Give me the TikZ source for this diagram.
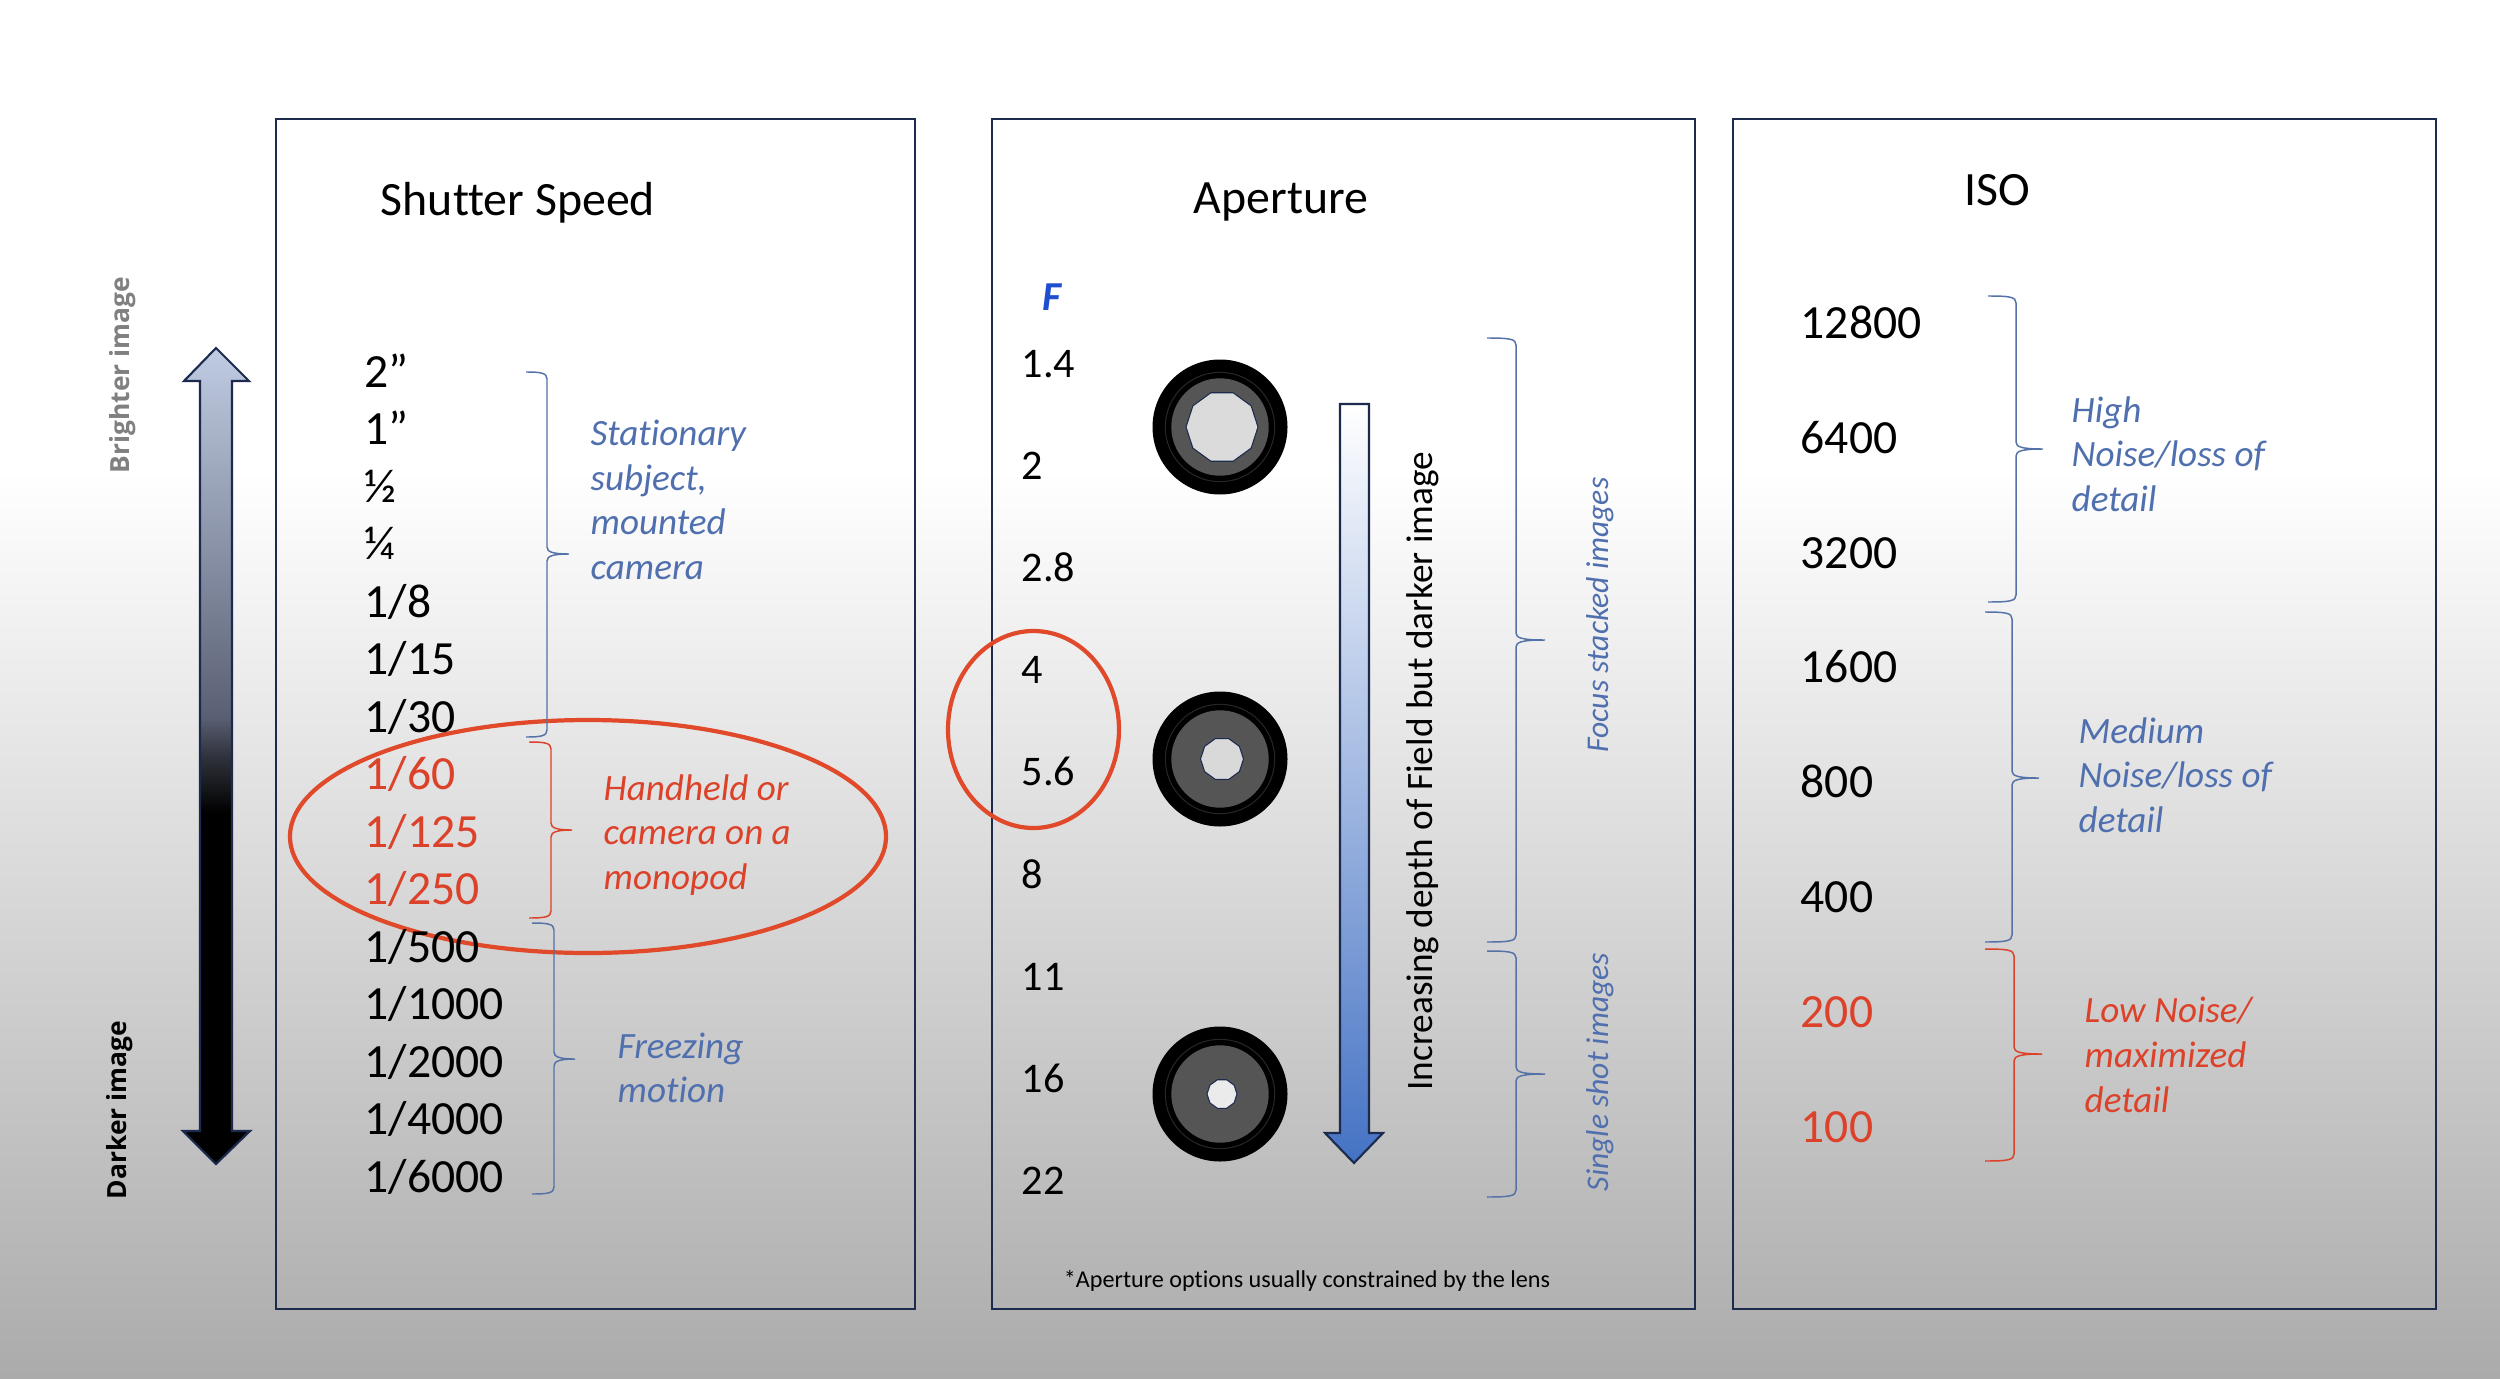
\documentclass[tikz,border=0pt]{standalone}
\usepackage{fontspec}
\setmainfont{Carlito}[Ligatures=NoCommon]
\newfontfamily\sidefont{Open Sans}
\usepackage{xcolor}
\usetikzlibrary{shapes.geometric}
\definecolor{framenavy}{HTML}{1C2A4E}
\definecolor{notered}{HTML}{DC4129}
\definecolor{ringred}{HTML}{E04A2A}
\definecolor{noteblue}{HTML}{4F6FAE}
\definecolor{braceblue}{HTML}{5472A8}
\definecolor{fblue}{HTML}{1F4FD0}
\definecolor{lensgray}{HTML}{555555}
\definecolor{arrowtop}{HTML}{C0CCE2}
\definecolor{arrowmid}{HTML}{5A6074}
\definecolor{arrowlow}{HTML}{30333C}
\definecolor{depthblue}{HTML}{4472C4}
\pgfdeclareverticalshading{brightdark}{100bp}{color(0bp)=(black); color(46.5bp)=(black); color(50bp)=(arrowlow); color(52.4bp)=(arrowmid); color(75bp)=(arrowtop); color(100bp)=(arrowtop)}
\begin{document}
\begin{tikzpicture}[x=0.01cm,y=-0.01cm,
                    frame/.style={draw=framenavy,line width=0.6pt},
                    val/.style={inner sep=0pt,anchor=base west,font=\fontsize{13.55}{16}\selectfont},
                    fval/.style={inner sep=0pt,anchor=base west,font=\fontsize{12}{14}\selectfont},
                    heading/.style={inner sep=0pt,font=\fontsize{13.6}{16}\selectfont},
                    note/.style={inner sep=0pt,anchor=west,align=left,text=noteblue,font=\fontsize{10.55}{12.7}\selectfont\itshape},
                    ring/.style={draw=ringred,line width=1.2pt},
                    bracket/.style={draw=#1,line width=0.42pt},
                    hole/.style={draw=framenavy,line width=0.3pt,regular polygon,regular polygon sides=10,inner sep=0pt,fill=#1},
                    sidelabel/.style={inner sep=0pt,rotate=90,font=\fontsize{7.5}{9}\selectfont\sidefont\bfseries}]

  \useasboundingbox (0,0) rectangle (2500,1379);
  \fill[white] (0,0) rectangle (2500,470);
  \shade[top color=white,bottom color=black!33] (0,470) rectangle (2500,1379);

  \draw[frame] (276,119) rectangle (915,1309);
  \draw[frame] (992,119) rectangle (1695,1309);
  \draw[frame] (1733,119) rectangle (2436,1309);

  \node[heading] (shuttertitle) at (518,203) {Shutter Speed};
  \node[heading] (aperturetitle) at (1281,202) {Aperture};
  \node[heading] (isotitle) at (1997,190) {ISO};

  \draw[framenavy,line width=0.6pt,shading=brightdark]
        (216,348) -- (249,381) -- (232,381) -- (232,1131) -- (250,1131) -- (216,1164)
        -- (183,1131) -- (200,1131) -- (200,381) -- (184,381) -- cycle;
  \node[sidelabel,text=black!50] (brighter) at (123,375) {Brighter image};
  \node[sidelabel] (darker) at (120,1110) {Darker image};

  \draw[ring] (588,836.5) ellipse (298 and 116.5);
  \draw[ring] (1033.5,729.5) ellipse (85.5 and 98.5);

  \foreach \shutter [count=\i from 0] in {2”,1”,½,¼,1/8,1/15,1/30,1/60,1/125,1/250,1/500,1/1000,1/2000,1/4000,1/6000}{
    \pgfmathtruncatemacro{\isred}{\i>6 && \i<10}
    \ifnum\isred=1
      \node[val,text=notered] (sh\i) at (364,387+57.5*\i) {\shutter};
    \else
      \node[val] (sh\i) at (364,387+57.5*\i) {\shutter};
    \fi
  }

  \node[inner sep=0pt,text=fblue,font=\fontsize{11.7}{14}\selectfont\bfseries\itshape] (fnum) at (1052,297) {F};
  \foreach \fstop [count=\i from 0] in {1.4,2,2.8,4,5.6,8,11,16,22}{
    \node[fval] (ap\i) at (1021,377+102.2*\i) {\fstop};
  }

  \foreach \iso/\isocol [count=\i from 0] in {12800/black,6400/black,3200/black,1600/black,800/black,400/black,200/notered,100/notered}{
    \node[val,text=\isocol] (iso\i) at (1800,338.5+114.8*\i) {\iso};
  }

  \foreach \n/\ly/\hs/\holecol in {1/427/72/black!14,2/759/43/black!15,3/1094/30/black!8}{
    \fill[black] (1220,\ly) circle (67.5);
    \draw[black!85,line width=0.3pt] (1220,\ly) circle (54.7);
    \fill[lensgray] (1220,\ly) circle (48.7);
    \node[hole=\holecol,minimum size=\hs*0.01cm] (stop\n) at (1222,\ly) {};
  }

  \shade[shading=axis,top color=white,bottom color=depthblue,draw=framenavy,line width=0.6pt]
        (1340,404) -- (1369,404) -- (1369,1133) -- (1383,1133) -- (1354,1163)
        -- (1325,1133) -- (1340,1133) -- cycle;
  \node[inner sep=0pt,rotate=90,font=\fontsize{10.6}{13}\selectfont] (depthtext) at (1423,771)
        {Increasing depth of Field but darker image};
  \node[inner sep=0pt,rotate=90,text=noteblue,font=\fontsize{9}{11}\selectfont\itshape] (focustext) at (1600,615)
        {Focus stacked images};
  \node[inner sep=0pt,rotate=90,text=noteblue,font=\fontsize{9}{11}\selectfont\itshape] (singletext) at (1600,1072)
        {Single shot images};
  \node[inner sep=0pt,font=\fontsize{6.87}{8}\selectfont] (lensnote) at (1307,1281)
        {*Aperture options usually constrained by the lens};

  \node[note] (stationary) at (590,500) {Stationary\\subject,\\mounted\\camera};
  \node[note,text=notered] (handheld) at (603,835) {Handheld or\\camera on a\\monopod};
  \node[note] (freezing) at (617,1068) {Freezing\\motion};
  \node[note] (highnoise) at (2071,454) {High\\Noise/loss of\\detail};
  \node[note] (mednoise) at (2078,775) {Medium\\Noise/loss of\\detail};
  \node[note,text=notered] (lownoise) at (2084,1055) {Low Noise/\\maximized\\detail};

  \foreach \n/\bx/\bs/\bp/\bt/\bm/\bb/\bcol in {1/526/547/569/372/554/737/braceblue,2/529/551/572/742/830/918/notered,
      3/532/554/575/923/1059/1194/braceblue,4/1487/1516/1545/338/640/942/braceblue,5/1487/1516/1545/951/1074/1197/braceblue,
      6/1988/2016/2043/296/449/602/braceblue,7/1985/2012/2039/612/778/942/braceblue,8/1985/2014/2042/949/1054/1161/notered}{
    \coordinate (br\n top) at (\bx,\bt);
    \coordinate (br\n tip) at (\bp,\bm);
    \coordinate (br\n bot) at (\bx,\bb);
    \draw[bracket=\bcol] (br\n top) .. controls (\bs-6,\bt) and (\bs,\bt+1) .. (\bs,\bt+7)
          -- (\bs,\bm-7) .. controls (\bs,\bm-2) and (\bs+6,\bm) .. (br\n tip)
          .. controls (\bs+6,\bm) and (\bs,\bm+2) .. (\bs,\bm+7)
          -- (\bs,\bb-7) .. controls (\bs,\bb-1) and (\bs-6,\bb) .. (br\n bot);
  }
\end{tikzpicture}
\end{document}
